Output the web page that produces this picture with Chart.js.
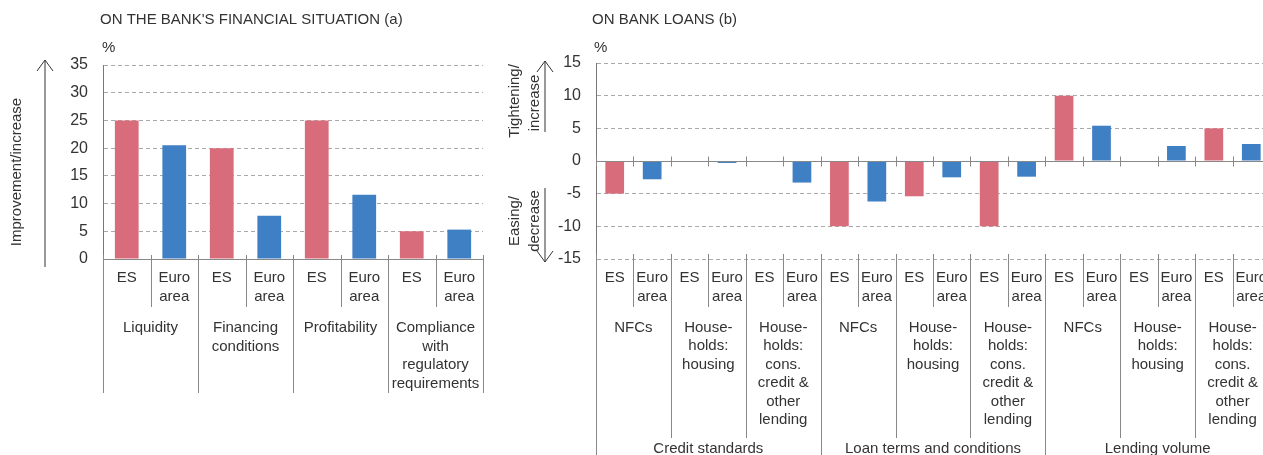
<!DOCTYPE html>
<html>
<head>
<meta charset="utf-8">
<script src="https://cdn.jsdelivr.net/npm/chart.js@4.4.1/dist/chart.umd.min.js"></script>
<style>
  html, body { margin: 0; padding: 0; background: #fff; overflow: hidden; }
  #wrap { position: relative; width: 1263px; height: 455px; overflow: hidden; }
  #finChart { position: absolute; left: 0; top: 0; }
  #loanChart { position: absolute; left: 500px; top: 0; }
</style>
</head>
<body>
<div id="wrap">
  <canvas id="finChart" width="500" height="455"></canvas>
  <canvas id="loanChart" width="775" height="455"></canvas>
</div>
<script>
// (a) on the bank's financial situation
const finGroups = [['Liquidity'], ['Financing', 'conditions'], ['Profitability'], ['Compliance', 'with', 'regulatory', 'requirements']];
const finES = [25, 20, 25, 5];
const finEuro = [20.5, 7.8, 11.6, 5.3];
const finTicks = [0, 5, 10, 15, 20, 25, 30, 35];

// (b) on bank loans
const loanGroups = [['Credit standards'], ['Loan terms and conditions'], ['Lending volume']];
const loanSectors = [['NFCs'], ['House-', 'holds:', 'housing'], ['House-', 'holds:', 'cons.', 'credit &', 'other', 'lending']];
const loanES = [-5, 0, 0, -10, -5.4, -10, 10, 0, 5];
const loanEuro = [-2.8, -0.3, -3.3, -6.2, -2.5, -2.4, 5.4, 2.3, 2.6];
const loanTicks = [-15, -10, -5, 0, 5, 10, 15];

const areas = [['ES'], ['Euro', 'area']];
const colES = 'rgb(217, 108, 123)';
const colEuro = 'rgb(63, 127, 196)';
const FONT = '"Liberation Sans", Arial, sans-serif';

function pairUp(es, euro) {
  const out = [];
  es.forEach((v, i) => out.push(v, euro[i]));
  return out;
}

function vline(ctx, x, y1, y2) {
  ctx.beginPath();
  ctx.moveTo(x, y1);
  ctx.lineTo(x, y2);
  ctx.stroke();
}

function arrow(ctx, x, from, to) {
  const d = to < from ? 1 : -1;
  ctx.beginPath();
  ctx.moveTo(x, from);
  ctx.lineTo(x, to);
  ctx.moveTo(x - 8, to + d * 11);
  ctx.lineTo(x, to);
  ctx.lineTo(x + 8, to + d * 11);
  ctx.stroke();
}

const hierLabels = {
  id: 'hierLabels',
  afterDraw(chart, args, opts) {
    const ctx = chart.ctx;
    const xs = chart.scales.x, ys = chart.scales.y;
    const n = chart.data.labels.length;
    const step = xs.getPixelForValue(1) - xs.getPixelForValue(0);
    const edge = k => xs.getPixelForValue(0) - step / 2 + k * step;
    const y0 = Math.round(ys.getPixelForValue(0)) + 0.5;

    ctx.save();
    ctx.strokeStyle = '#888';
    ctx.lineWidth = 1;
    ctx.beginPath();
    ctx.moveTo(chart.chartArea.left, y0);
    ctx.lineTo(chart.chartArea.right, y0);
    ctx.stroke();

    for (let k = 0; k <= n; k++) {
      let bottom = 0;
      opts.levels.forEach(l => { if (k % l.span === 0) bottom = Math.max(bottom, l.sep); });
      const px = Math.round(edge(k)) + 0.5;
      vline(ctx, px, opts.sepTop, bottom);
      if (opts.zeroTick) vline(ctx, px, y0 - 5, y0 + 5);
    }

    ctx.fillStyle = '#333';
    ctx.font = '15px ' + FONT;
    ctx.textAlign = 'center';
    ctx.textBaseline = 'middle';
    opts.levels.forEach(l => {
      for (let c = 0; c * l.span < n; c++) {
        const cx = (edge(c * l.span) + edge((c + 1) * l.span)) / 2;
        l.text(c).forEach((t, j) => ctx.fillText(t, cx, l.top + j * 18.5));
      }
    });

    ctx.textAlign = 'left';
    ctx.fillText(opts.title.text, opts.title.x, 20);
    ctx.fillText('%', opts.title.x + 2, 48);

    // rotated side captions
    ctx.textAlign = 'center';
    ctx.textBaseline = 'alphabetic';
    opts.side.forEach(s => {
      ctx.save();
      ctx.translate(s.x, s.y);
      ctx.rotate(-Math.PI / 2);
      ctx.fillText(s.text, 0, 0);
      ctx.restore();
    });

    ctx.strokeStyle = '#333';
    opts.arrows.forEach(a => arrow(ctx, a.x, a.from, a.to));
    ctx.restore();
  }
};

function makeChart(id, es, euro, ticks, yWidth, padding, plug) {
  const values = pairUp(es, euro);
  return new Chart(document.getElementById(id), {
    type: 'bar',
    data: {
      labels: values.map((v, i) => areas[i % 2].join(' ')),
      datasets: [{
        data: values,
        backgroundColor: values.map((v, i) => (i % 2 ? colEuro : colES)),
        barPercentage: 0.5,
        categoryPercentage: 1
      }]
    },
    options: {
      responsive: false,
      animation: false,
      layout: { padding: padding },
      plugins: {
        legend: { display: false },
        tooltip: { enabled: false },
        hierLabels: plug
      },
      scales: {
        x: { display: false },
        y: {
          min: ticks[0],
          max: ticks[ticks.length - 1],
          afterBuildTicks: s => { s.ticks = ticks.map(v => ({ value: v })); },
          afterFit: s => { s.width = yWidth; },
          grid: {
            color: c => (c.tick && c.tick.value === 0 ? 'rgba(0,0,0,0)' : '#aaa'),
            drawTicks: false
          },
          border: { color: '#777', dash: [4, 3] },
          ticks: { padding: 15, color: '#333', font: { size: 16, family: FONT } }
        }
      }
    },
    plugins: [hierLabels]
  });
}

makeChart('finChart', finES, finEuro, finTicks, 103,
  { top: 65, bottom: 196, left: 0, right: 17 },
  {
    sepTop: 255,
    zeroTick: false,
    levels: [
      { span: 1, text: i => areas[i % 2], top: 278, sep: 307 },
      { span: 2, text: i => finGroups[i], top: 328, sep: 393 }
    ],
    title: { text: "ON THE BANK'S FINANCIAL SITUATION (a)", x: 100 },
    side: [{ text: 'Improvement/increase', x: 21, y: 172 }],
    arrows: [{ x: 45, from: 267, to: 60 }]
  });

makeChart('loanChart', loanES, loanEuro, loanTicks, 96,
  { top: 63, bottom: 196, left: 0, right: 5 },
  {
    sepTop: 254,
    zeroTick: true,
    levels: [
      { span: 1, text: i => areas[i % 2], top: 278, sep: 307 },
      { span: 2, text: i => loanSectors[i % 3], top: 327.5, sep: 438 },
      { span: 6, text: i => loanGroups[i], top: 449, sep: 460 }
    ],
    title: { text: 'ON BANK LOANS (b)', x: 92 },
    side: [
      { text: 'Tightening/', x: 19, y: 101 },
      { text: 'increase', x: 39, y: 103 },
      { text: 'Easing/', x: 19, y: 221 },
      { text: 'decrease', x: 39, y: 221 }
    ],
    arrows: [{ x: 45, from: 132, to: 61 }, { x: 45, from: 188, to: 262 }]
  });
</script>
</body>
</html>
